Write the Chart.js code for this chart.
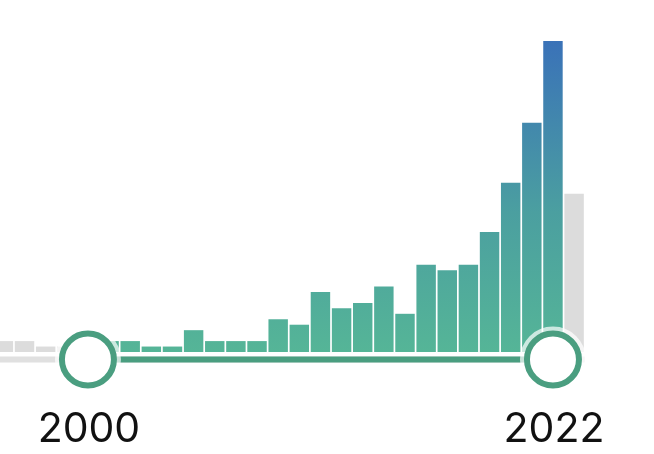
<!DOCTYPE html>
<html>
<head>
<meta charset="utf-8">
<script src="https://cdn.jsdelivr.net/npm/chart.js@4"></script>
<style>
  html, body { margin: 0; padding: 0; background: #fff; }
  #wrap { width: 654px; height: 454px; }
</style>
</head>
<body>
<div id="wrap"><canvas id="histChart" width="654" height="454"></canvas></div>
<script>
// years shown in the histogram and the count for each year
const years = [1996, 1997, 1998, 1999, 2000, 2001, 2002, 2003, 2004, 2005, 2006, 2007, 2008, 2009,
               2010, 2011, 2012, 2013, 2014, 2015, 2016, 2017, 2018, 2019, 2020, 2021, 2022, 2023];
const counts = [2, 2, 1, 1, 1, 2, 2, 1, 1, 4, 2, 2, 2, 6,
                5, 11, 8, 9, 12, 7, 16, 15, 16, 22, 31, 42, 57, 29];
// selected range of the slider
const rangeStart = 2000;
const rangeEnd = 2022;
const rangeLabels = ["2000", "2022"];

const GREEN = '#4a9e80';
const GRAY = '#dcdcdc';

// colour of a bar: gradient inside the range, gray outside
function barColor(ctx) {
    const chart = ctx.chart;
    const area = chart.chartArea;
    if (!area) return GRAY;
    const year = years[ctx.dataIndex];
    if (year < rangeStart || year > rangeEnd) return GRAY;
    const g = chart.ctx.createLinearGradient(0, area.bottom, 0, chart.scales.y.getPixelForValue(57));
    g.addColorStop(0, '#55b597');
    g.addColorStop(0.45, '#4b9fa0');
    g.addColorStop(1, '#3a72b8');
    return g;
}

// slider track, handles and year labels drawn with the chart's x scale
const sliderPlugin = {
    id: 'slider',
    afterDatasetsDraw(chart) {
        const ctx = chart.ctx;
        const x = chart.scales.x;
        const trackY = chart.chartArea.bottom + 7.5;
        const x0 = x.getPixelForValue(rangeStart);
        const x1 = x.getPixelForValue(rangeEnd);
        const xMin = x.getPixelForValue(years[0] - 0.5);
        const xMax = x.getPixelForValue(years[years.length - 1] + 0.5);

        ctx.save();
        ctx.lineWidth = 6;
        ctx.strokeStyle = '#e0e0e0';
        ctx.beginPath();
        ctx.moveTo(xMin, trackY);
        ctx.lineTo(xMax, trackY);
        ctx.stroke();

        ctx.strokeStyle = GREEN;
        ctx.beginPath();
        ctx.moveTo(x0, trackY);
        ctx.lineTo(x1, trackY);
        ctx.stroke();

        [x0, x1].forEach((cx, i) => {
            // pale halo
            ctx.beginPath();
            ctx.arc(cx, trackY, 30.5, 0, Math.PI * 2);
            ctx.lineWidth = 5;
            ctx.strokeStyle = 'rgba(255,255,255,0.7)';
            ctx.stroke();
            // ring
            ctx.beginPath();
            ctx.arc(cx, trackY, 26, 0, Math.PI * 2);
            ctx.fillStyle = '#fff';
            ctx.fill();
            ctx.lineWidth = 6;
            ctx.strokeStyle = GREEN;
            ctx.stroke();

            ctx.fillStyle = '#111';
            ctx.font = '41px Inter, "Liberation Sans", sans-serif';
            ctx.textAlign = 'center';
            ctx.textBaseline = 'alphabetic';
            ctx.fillText(rangeLabels[i], cx + 1, 442);
        });
        ctx.restore();
    }
};

new Chart(document.getElementById('histChart'), {
    type: 'bar',
    data: {
        datasets: [{
            data: years.map((yr, i) => ({ x: yr, y: counts[i] })),
            backgroundColor: barColor,
            borderWidth: 0,
            barPercentage: 0.92,
            categoryPercentage: 1
        }]
    },
    options: {
        responsive: false,
        animation: false,
        layout: { padding: { left: 0, right: 0, top: 0, bottom: 102 } },
        plugins: { legend: { display: false }, tooltip: { enabled: false } },
        scales: {
            x: { type: 'linear', display: false, min: 1995.84, max: 2026.78, offset: false },
            y: { display: false, min: 0, max: 64.5 }
        }
    },
    plugins: [sliderPlugin]
});
</script>
</body>
</html>
